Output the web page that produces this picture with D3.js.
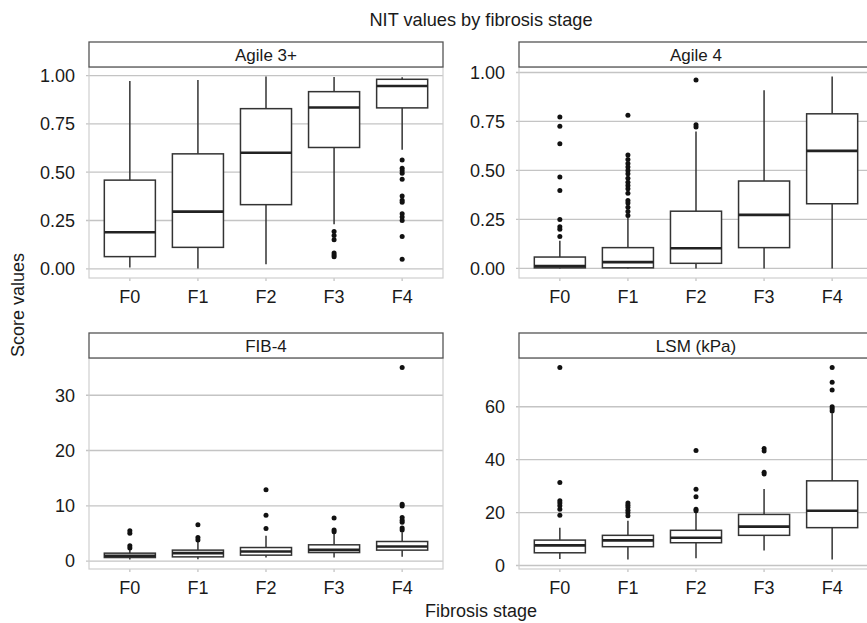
<!DOCTYPE html>
<html>
<head>
<meta charset="utf-8">
<script src="https://cdn.jsdelivr.net/npm/d3@7"></script>
<style>
  body { margin: 0; background: #fff; }
  svg { font-family: "Liberation Sans", Arial, sans-serif; }
</style>
</head>
<body>
<svg id="chart"></svg>
<script>
// categories
var stages = ["F0", "F1", "F2", "F3", "F4"];

// box stats per stage: [lower whisker, q1, median, q3, upper whisker]
var agile3Box = [
  [0.007, 0.063, 0.189, 0.459, 0.972],
  [0.002, 0.111, 0.296, 0.595, 0.977],
  [0.024, 0.332, 0.601, 0.829, 0.995],
  [0.230, 0.628, 0.835, 0.917, 0.993],
  [0.616, 0.833, 0.946, 0.981, 0.991]
];
var agile3Out = [
  [], [], [],
  [0.193, 0.172, 0.151, 0.082, 0.072, 0.062],
  [0.563, 0.520, 0.508, 0.494, 0.464, 0.377, 0.355, 0.344, 0.285, 0.268, 0.250, 0.167, 0.050]
];

var agile4Box = [
  [0.000, 0.003, 0.012, 0.058, 0.141],
  [0.000, 0.003, 0.032, 0.106, 0.260],
  [0.000, 0.026, 0.103, 0.292, 0.699],
  [0.000, 0.106, 0.273, 0.446, 0.909],
  [0.000, 0.330, 0.600, 0.789, 0.979]
];
var agile4Out = [
  [0.773, 0.725, 0.636, 0.467, 0.397, 0.249, 0.213, 0.200, 0.163],
  [0.782, 0.579, 0.556, 0.535, 0.518, 0.500, 0.483, 0.460, 0.440, 0.423, 0.406, 0.384, 0.346, 0.334, 0.312, 0.290, 0.270],
  [0.962, 0.733, 0.722],
  [],
  []
];

var fib4Box = [
  [0.30, 0.64, 0.95, 1.43, 2.00],
  [0.35, 0.76, 1.43, 1.98, 3.50],
  [0.63, 1.07, 1.72, 2.45, 4.57],
  [0.64, 1.54, 2.03, 2.94, 4.90],
  [0.76, 1.98, 2.64, 3.54, 5.20]
];
var fib4Out = [
  [5.5, 5.05, 2.75, 2.35],
  [6.56, 4.27, 3.8],
  [12.9, 8.3, 5.9],
  [7.8, 5.6, 5.3],
  [35.0, 10.3, 9.95, 7.9, 7.4, 7.0, 6.0, 5.6]
];

var lsmBox = [
  [2.5, 4.8, 7.6, 9.6, 14.3],
  [2.3, 7.1, 9.5, 11.4, 16.9],
  [2.7, 8.6, 10.5, 13.3, 20.3],
  [5.7, 11.4, 14.7, 19.3, 28.9],
  [2.3, 14.3, 20.7, 32.0, 57.5]
];
var lsmOut = [
  [74.8, 31.4, 24.5, 23.6, 22.6, 21.3, 19.0],
  [23.6, 22.8, 21.9, 20.9, 19.9, 18.8],
  [43.5, 28.8, 26.0, 21.3, 20.7],
  [44.2, 43.3, 35.2, 34.6],
  [74.8, 69.3, 66.3, 60.0, 59.2, 58.4]
];

// tick labels
var agileTicks = [0, 0.25, 0.5, 0.75, 1];
var fib4Ticks = [0, 10, 20, 30];
var lsmTicks = [0, 20, 40, 60];

var panels = [
  { title: "Agile 3+",  box: agile3Box, out: agile3Out, ticks: agileTicks, fmt: d3.format(".2f"), col: 0, row: 0 },
  { title: "Agile 4",   box: agile4Box, out: agile4Out, ticks: agileTicks, fmt: d3.format(".2f"), col: 1, row: 0 },
  { title: "FIB-4",     box: fib4Box,   out: fib4Out,   ticks: fib4Ticks,  fmt: d3.format("d"),   col: 0, row: 1 },
  { title: "LSM (kPa)", box: lsmBox,    out: lsmOut,    ticks: lsmTicks,   fmt: d3.format("d"),   col: 1, row: 1 }
];

var W = 867, H = 623;
var colX = [89, 519], panelW = 354;
var stripTop = [42, 333], stripH = 25, plotH = 211;
var ink = "#1a1a1a";

var svg = d3.select("#chart").attr("width", W).attr("height", H);

svg.append("text")
  .attr("x", 481).attr("y", 26)
  .attr("text-anchor", "middle")
  .attr("font-size", 18.2)
  .attr("fill", ink)
  .text("NIT values by fibrosis stage");

svg.append("text")
  .attr("transform", "translate(24,305) rotate(-90)")
  .attr("text-anchor", "middle")
  .attr("font-size", 18)
  .attr("fill", ink)
  .text("Score values");

svg.append("text")
  .attr("x", 481).attr("y", 617)
  .attr("text-anchor", "middle")
  .attr("font-size", 18)
  .attr("fill", ink)
  .text("Fibrosis stage");

panels.forEach(function (p) {
  var x0 = colX[p.col];
  var sTop = stripTop[p.row];
  var pTop = sTop + stripH;
  var pBot = pTop + plotH;

  var vals = [];
  p.box.forEach(function (b) { vals = vals.concat(b); });
  p.out.forEach(function (o) { vals = vals.concat(o); });
  var lo = d3.min(vals), hi = d3.max(vals), pad = (hi - lo) * 0.05;

  var y = d3.scaleLinear().domain([lo - pad, hi + pad]).range([pBot, pTop]);
  var x = d3.scalePoint().domain(stages).range([x0, x0 + panelW]).padding(0.6);
  var bw = x.step() * 0.75;

  var g = svg.append("g");

  // grid
  g.selectAll(".grid").data(p.ticks).enter().append("line")
    .attr("x1", x0 - 3).attr("x2", x0 + panelW)
    .attr("y1", function (d) { return y(d); })
    .attr("y2", function (d) { return y(d); })
    .attr("stroke", "#c4c4c4").attr("stroke-width", 1.3);

  // y tick labels
  g.selectAll(".ylab").data(p.ticks).enter().append("text")
    .attr("x", x0 - 14)
    .attr("y", function (d) { return y(d) + 6.3; })
    .attr("text-anchor", "end")
    .attr("font-size", 18)
    .attr("fill", ink)
    .text(p.fmt);

  // x ticks + labels
  g.selectAll(".xt").data(stages).enter().append("line")
    .attr("x1", function (d) { return x(d); }).attr("x2", function (d) { return x(d); })
    .attr("y1", pBot).attr("y2", pBot + 3)
    .attr("stroke", "#c4c4c4").attr("stroke-width", 1.3);
  g.selectAll(".xlab").data(stages).enter().append("text")
    .attr("x", function (d) { return x(d); })
    .attr("y", pBot + 25)
    .attr("text-anchor", "middle")
    .attr("font-size", 18)
    .attr("fill", ink)
    .text(function (d) { return d; });

  // panel border
  g.append("rect")
    .attr("x", x0).attr("y", pTop).attr("width", panelW).attr("height", plotH)
    .attr("fill", "none").attr("stroke", "#cfcfcf").attr("stroke-width", 1.2);

  // strip
  g.append("rect")
    .attr("x", x0).attr("y", sTop).attr("width", panelW).attr("height", stripH)
    .attr("fill", "#fff").attr("stroke", "#555").attr("stroke-width", 1.3);
  g.append("text")
    .attr("x", x0 + panelW / 2).attr("y", sTop + stripH / 2 + 6)
    .attr("text-anchor", "middle")
    .attr("font-size", 17)
    .attr("fill", ink)
    .text(p.title);

  // boxes
  var boxes = g.selectAll(".box").data(p.box).enter().append("g");
  boxes.append("line")
    .attr("x1", function (d, i) { return x(stages[i]); })
    .attr("x2", function (d, i) { return x(stages[i]); })
    .attr("y1", function (d) { return y(d[0]); })
    .attr("y2", function (d) { return y(d[4]); })
    .attr("stroke", "#333").attr("stroke-width", 1.5);
  boxes.append("rect")
    .attr("x", function (d, i) { return x(stages[i]) - bw / 2; })
    .attr("y", function (d) { return y(d[3]); })
    .attr("width", bw)
    .attr("height", function (d) { return y(d[1]) - y(d[3]); })
    .attr("fill", "#fff").attr("stroke", "#333").attr("stroke-width", 1.5);
  boxes.append("line")
    .attr("x1", function (d, i) { return x(stages[i]) - bw / 2; })
    .attr("x2", function (d, i) { return x(stages[i]) + bw / 2; })
    .attr("y1", function (d) { return y(d[2]); })
    .attr("y2", function (d) { return y(d[2]); })
    .attr("stroke", "#222").attr("stroke-width", 2.6);

  // outliers
  p.out.forEach(function (o, i) {
    g.selectAll(null).data(o).enter().append("circle")
      .attr("cx", x(stages[i]))
      .attr("cy", function (d) { return y(d); })
      .attr("r", 2.5)
      .attr("fill", "#111");
  });
});
</script>
</body>
</html>
